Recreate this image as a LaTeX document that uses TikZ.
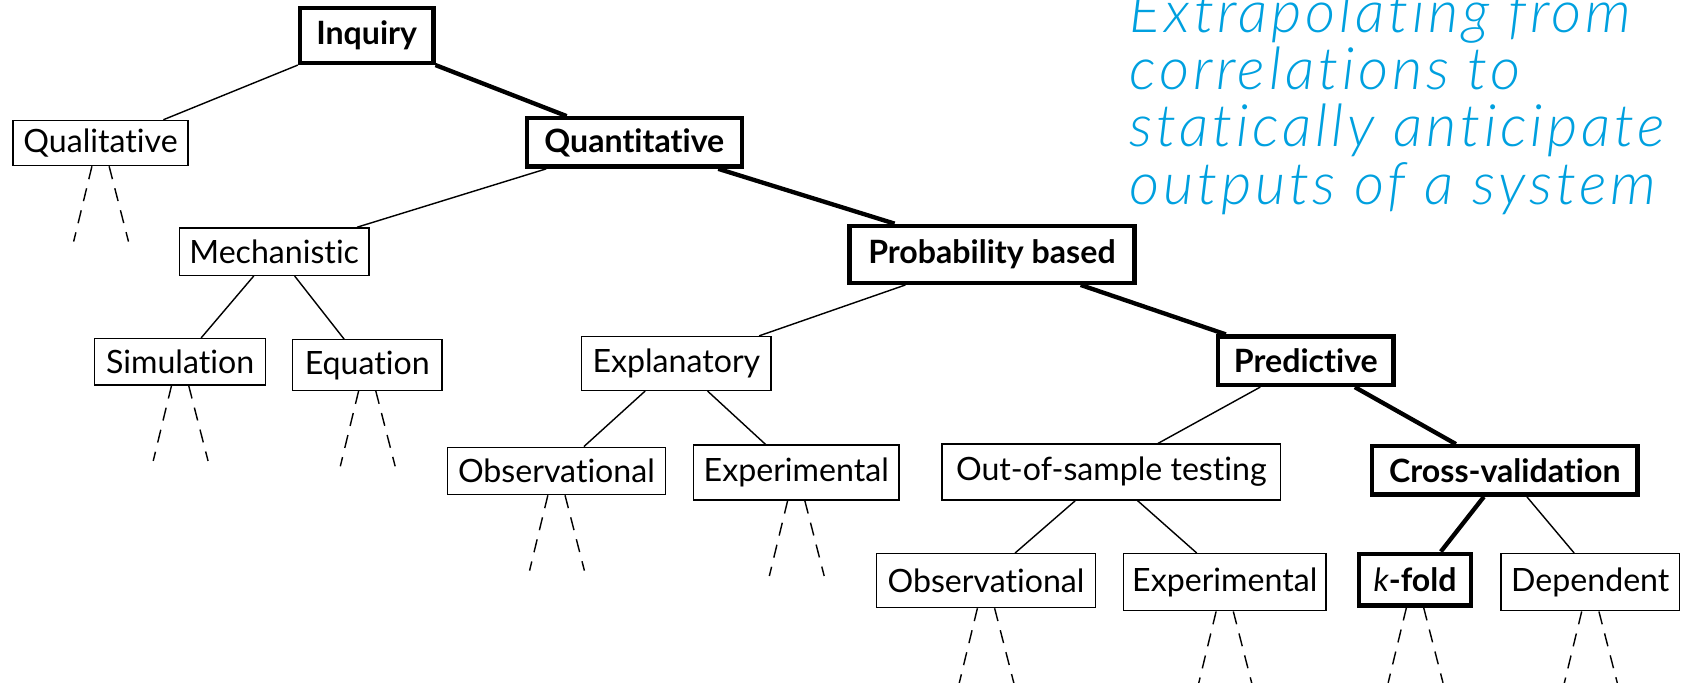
\documentclass[tikz,border=0pt]{standalone}
\usepackage{fontspec}
\setmainfont{Lato}[Ligatures=NoCommon,BoldFont={Lato Bold},ItalicFont={Lato Italic},BoldItalicFont={Lato Bold Italic}]
\newfontfamily\capfont{Lato Light}[Ligatures=NoCommon,ItalicFont={Lato Light Italic},LetterSpace=6.5]
\usetikzlibrary{calc}
\definecolor{skyblue}{RGB}{0,160,223}
\tikzset{
  nbox/.style={draw,line width=0.75pt,inner sep=0pt,font=\fontsize{17}{20}\selectfont},
  hbox/.style={draw,line width=2.3pt,inner sep=0pt,font=\fontsize{17}{20}\selectfont\bfseries},
  sz/.style 2 args={minimum width=#1*0.02cm,minimum height=#2*0.02cm},
  thin/.style={line width=0.75pt},
  thick/.style={line width=2.3pt},
  leg/.style={line width=0.75pt,dash pattern=on 7pt off 5pt},
}
\begin{document}
\begin{tikzpicture}[x=0.02cm,y=-0.02cm]
\useasboundingbox (0,0) rectangle (1568,635);
\clip (0,0) rectangle (1568,635);
% nodes
\node[hbox,sz={124}{51}] (inq) at (341,33) {Inquiry};
\node[nbox,sz={163}{42}] (qual) at (93.5,133) {Qualitative};
\node[hbox,sz={200}{45}] (quant) at (590,132.5) {Quantitative};
\node[nbox,sz={176}{44}] (mech) at (255,234) {Mechanistic};
\node[hbox,sz={265}{53}] (prob) at (922.5,236.5) {Probability based};
\node[nbox,sz={159}{43}] (sim) at (167.5,336.5) {Simulation};
\node[nbox,sz={139}{47}] (equ) at (341.5,339.5) {Equation};
\node[nbox,sz={176}{50}] (expl) at (629,338) {Explanatory};
\node[hbox,sz={163}{45}] (pred) at (1214.5,335.5) {Predictive};
\node[nbox,sz={203}{44}] (obsA) at (517.5,438) {Observational};
\node[nbox,sz={191}{51}] (expA) at (740.5,439.5) {Experimental};
\node[nbox,sz={315}{52}] (oos) at (1033.5,439) {Out-of-sample testing};
\node[hbox,sz={247}{45}] (cv) at (1399.5,437.5) {Cross-validation};
\node[nbox,sz={204}{50}] (obsB) at (917,540) {Observational};
\node[nbox,sz={188}{53}] (expB) at (1139,541.5) {Experimental};
\node[hbox,sz={104}{48}] (kf) at (1316,539) {\mdseries\itshape k\upshape\bfseries-fold};
\node[nbox,sz={166}{53}] (dep) at (1479,541.5) {Dependent};
% caption
\node[anchor=base west,align=left,inner sep=0pt,text=skyblue,
      font=\capfont\fontsize{31}{30.4}\selectfont\itshape] (cap) at (1050,190)
  {Extrapolating from\\correlations to\\statically anticipate\\outputs of a system};
% connectors
\draw[thin]  (inq.south west) -- ($(qual.north)+(58.5,0)$);
\draw[thick] (inq.south east) -- ($(quant.north)+(-63,0)$);
\draw[thin]  ($(quant.south)+(-82,0)$) -- ($(mech.north)+(77,0)$);
\draw[thick] ($(quant.south)+(78,0)$) -- ($(prob.north)+(-90.5,0)$);
\draw[thin]  ($(prob.south)+(-80.5,0)$) -- ($(expl.north)+(77,0)$);
\draw[thick] ($(prob.south)+(82.5,0)$) -- ($(pred.north)+(-74.5,0)$);
\draw[thin]  ($(mech.south)+(-19,0)$) -- ($(sim.north)+(19.5,0)$);
\draw[thin]  ($(mech.south)+(19,0)$) -- ($(equ.north)+(-21.5,0)$);
\draw[thin]  ($(expl.south)+(-29,0)$) -- ($(obsA.north)+(25.5,0)$);
\draw[thin]  ($(expl.south)+(29,0)$) -- ($(expA.north)+(-28.5,0)$);
\draw[thin]  ($(pred.south)+(-42.5,0)$) -- ($(oos.north)+(43.5,0)$);
\draw[thick] ($(pred.south)+(45.5,0)$) -- ($(cv.north)+(-45.5,0)$);
\draw[thin]  ($(oos.south)+(-33.5,0)$) -- ($(obsB.north)+(27,0)$);
\draw[thin]  ($(oos.south)+(24.5,0)$) -- ($(expB.north)+(-26,0)$);
\draw[thick] ($(cv.south)+(-19.5,0)$) -- ($(kf.north)+(24,0)$);
\draw[thin]  ($(cv.south)+(20.5,0)$) -- ($(dep.north)+(-15,0)$);
% dashed legs
\foreach \n in {qual,sim,equ,obsA,expA,obsB,expB,kf,dep}{
  \draw[leg] ($(\n.south)+(-8,0)$) -- ++(-17,70);
  \draw[leg] ($(\n.south)+(8,0)$) -- ++(18,70);
}
\end{tikzpicture}
\end{document}
